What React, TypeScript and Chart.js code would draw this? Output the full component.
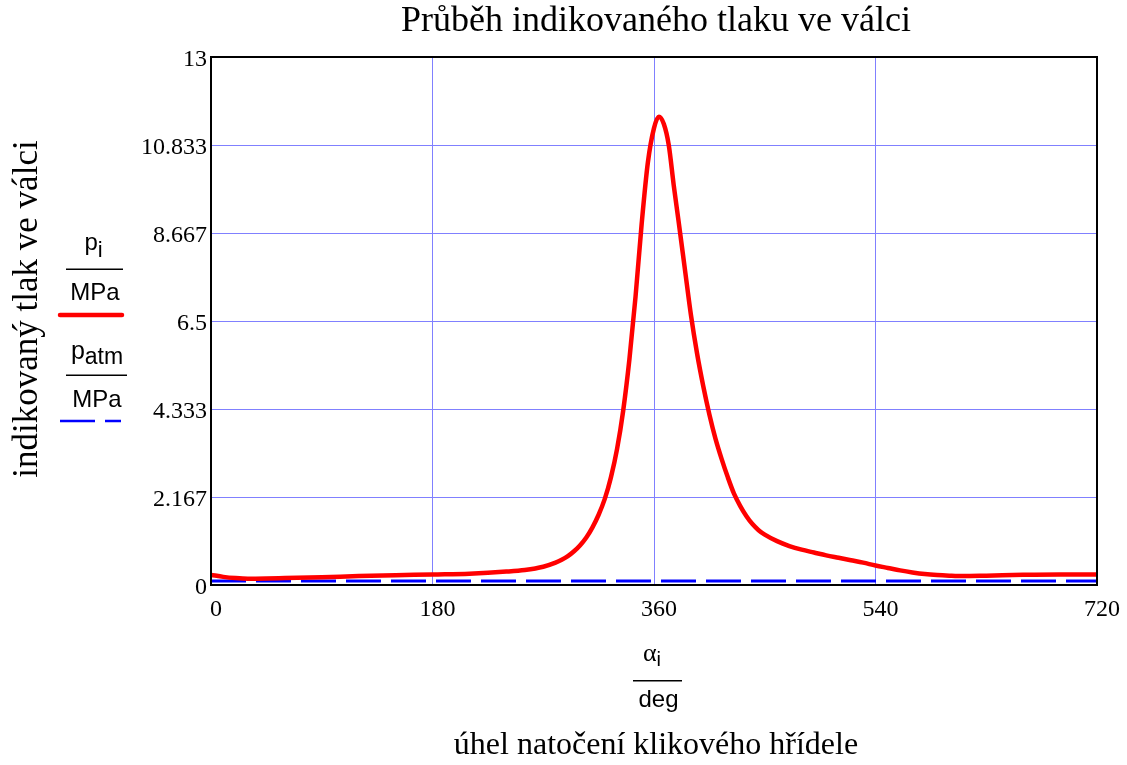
import { useEffect, useRef } from "react";
import { Chart, registerables } from "chart.js";

Chart.register(...registerables);

// crank angle [deg]
const angles = [
  0, 10, 20, 30, 45, 60, 90, 120, 150, 180, 210, 240, 255, 270, 280, 285, 290, 295, 300, 305,
  310, 315, 320, 325, 330, 335, 340, 345, 350, 355, 360, 364, 368, 372, 376, 380, 385, 390, 395,
  400, 405, 410, 415, 420, 425, 430, 435, 440, 445, 450, 460, 470, 480, 490, 500, 510, 520, 530,
  540, 550, 560, 570, 580, 590, 600, 611, 630, 660, 690, 720,
];
// indicated cylinder pressure [MPa]
const pressure = [
  0.25, 0.2, 0.17, 0.155, 0.16, 0.17, 0.19, 0.22, 0.24, 0.26, 0.28, 0.33, 0.37, 0.45, 0.55, 0.62,
  0.71, 0.83, 0.98, 1.17, 1.42, 1.73, 2.12, 2.65, 3.35, 4.3, 5.55, 7.1, 8.9, 10.4, 11.25, 11.53,
  11.35, 10.83, 9.85, 8.95, 7.8, 6.65, 5.7, 4.9, 4.2, 3.6, 3.1, 2.65, 2.25, 1.95, 1.7, 1.5, 1.35,
  1.24, 1.08, 0.96, 0.87, 0.8, 0.73, 0.67, 0.61, 0.55, 0.48, 0.42, 0.36, 0.31, 0.27, 0.245, 0.23,
  0.22, 0.23, 0.25, 0.26, 0.26,
];
// atmospheric pressure [MPa]
const atmAngles = [0, 720];
const atmPressure = [0.1, 0.1];

const xTicks = [0, 180, 360, 540, 720];
const yTicks = [0, 13 / 6, 26 / 6, 6.5, 52 / 6, 65 / 6, 13];

const titleText = "Průběh indikovaného tlaku ve válci";
const yTitleText = "indikovaný tlak ve válci";
const xTitleText = "úhel natočení klikového hřídele";

const GRID = "rgb(128,128,255)";
const SERIF = '"Liberation Serif", "Times New Roman", serif';
const SANS = '"Liberation Sans", Arial, sans-serif';

function drawSub(ctx: CanvasRenderingContext2D, main: string, sub: string, cx: number, base: number, subBase: number, mainFont: string, subFont: string) {
  ctx.font = mainFont;
  const w1 = ctx.measureText(main).width;
  ctx.font = subFont;
  const w2 = ctx.measureText(sub).width;
  const x0 = cx - (w1 + w2) / 2;
  ctx.textAlign = "left";
  ctx.textBaseline = "alphabetic";
  ctx.font = mainFont;
  ctx.fillText(main, x0, base);
  ctx.font = subFont;
  ctx.fillText(sub, x0 + w1, subBase);
}

const textPlugin = {
  id: "texts",
  afterDatasetsDraw(chart: any) {
    const { ctx, chartArea } = chart;
    ctx.save();
    ctx.strokeStyle = "#000";
    ctx.lineWidth = 2;
    ctx.strokeRect(chartArea.left, chartArea.top, chartArea.right - chartArea.left, chartArea.bottom - chartArea.top);
    ctx.restore();
  },
  afterDraw(chart: any) {
    const { ctx } = chart;
    ctx.save();
    ctx.fillStyle = "#000";
    ctx.textBaseline = "alphabetic";
    // title
    ctx.font = `36px ${SERIF}`;
    ctx.textAlign = "center";
    ctx.fillText(titleText, 656, 31);
    // x title
    ctx.font = `32px ${SERIF}`;
    ctx.fillText(xTitleText, 656, 754);
    // y title
    ctx.save();
    ctx.translate(37, 309);
    ctx.rotate(-Math.PI / 2);
    ctx.font = `35px ${SERIF}`;
    ctx.textAlign = "center";
    ctx.fillText(yTitleText, 0, 0);
    ctx.restore();

    // legend
    const mainF = `24px ${SANS}`;
    const subF = `23px ${SANS}`;
    drawSub(ctx, "p", "i", 93.5, 250, 257, mainF, `22px ${SANS}`);
    ctx.fillRect(66, 268.5, 57, 1.5);
    ctx.font = mainF;
    ctx.textAlign = "center";
    ctx.fillText("MPa", 95, 300);
    ctx.strokeStyle = "rgb(255,0,0)";
    ctx.lineWidth = 4.5;
    ctx.lineCap = "round";
    ctx.beginPath();
    ctx.moveTo(60, 315);
    ctx.lineTo(122, 315);
    ctx.stroke();
    drawSub(ctx, "p", "atm", 97, 359, 364, `25px ${SANS}`, subF);
    ctx.fillRect(66, 374.5, 61, 1.5);
    ctx.font = mainF;
    ctx.textAlign = "center";
    ctx.fillText("MPa", 97, 406.5);
    ctx.strokeStyle = "rgb(0,0,255)";
    ctx.lineWidth = 2.5;
    ctx.lineCap = "butt";
    ctx.setLineDash([35, 10]);
    ctx.beginPath();
    ctx.moveTo(60, 421);
    ctx.lineTo(121, 421);
    ctx.stroke();
    ctx.setLineDash([]);

    // x fraction label
    drawSub(ctx, "α", "i", 652, 661, 666, `26px ${SERIF}`, `20px ${SANS}`);
    ctx.fillRect(633, 680, 49, 1.5);
    ctx.font = mainF;
    ctx.textAlign = "center";
    ctx.fillText("deg", 658.5, 706.5);
    ctx.restore();
  },
};

export default function App() {
  const ref = useRef<HTMLCanvasElement | null>(null);
  useEffect(() => {
    if (!ref.current) return;
    const chart = new Chart(ref.current, {
      type: "line",
      data: {
        datasets: [
          {
            data: angles.map((a, i) => ({ x: a, y: pressure[i] })),
            borderColor: "rgb(255,0,0)",
            borderWidth: 4.5,
            pointRadius: 0,
            cubicInterpolationMode: "monotone",
            fill: false,
          },
          {
            data: atmAngles.map((a, i) => ({ x: a, y: atmPressure[i] })),
            borderColor: "rgb(0,0,255)",
            borderWidth: 3,
            borderDash: [35, 10],
            pointRadius: 0,
            fill: false,
          },
        ],
      },
      options: {
        animation: false,
        responsive: false,
        events: [],
        layout: { padding: { left: 0, right: 30, top: 57, bottom: 0 } },
        plugins: { legend: { display: false }, title: { display: false }, tooltip: { enabled: false } },
        scales: {
          x: {
            type: "linear",
            min: 0,
            max: 720,
            afterBuildTicks: (s: any) => {
              s.ticks = xTicks.map((v) => ({ value: v }));
            },
            ticks: {
              font: { family: SERIF, size: 24 },
              color: "#000",
              padding: 10,
              labelOffset: 5,
              maxRotation: 0,
              autoSkip: false,
              callback: (v: any) => String(v),
            },
            grid: { color: GRID, lineWidth: 1, drawTicks: false },
            border: { display: false },
            afterFit: (s: any) => {
              s.height = 180;
            },
          },
          y: {
            type: "linear",
            min: 0,
            max: 13,
            afterBuildTicks: (s: any) => {
              s.ticks = yTicks.map((v) => ({ value: v }));
            },
            ticks: {
              font: { family: SERIF, size: 24 },
              color: "#000",
              padding: 4,
              labelOffset: 3,
              autoSkip: false,
              callback: (v: any) => String(Number(Number(v).toFixed(3))),
            },
            grid: { color: GRID, lineWidth: 1, drawTicks: false },
            border: { display: false },
            afterFit: (s: any) => {
              s.width = 211;
            },
          },
        },
      },
      plugins: [textPlugin],
    } as any);
    return () => chart.destroy();
  }, []);
  return (
    <div style={{ position: "fixed", left: 0, top: 0, width: 1127, height: 765, background: "#fff" }}>
      <canvas ref={ref} width={1127} height={765} style={{ width: 1127, height: 765, display: "block" }} />
    </div>
  );
}
